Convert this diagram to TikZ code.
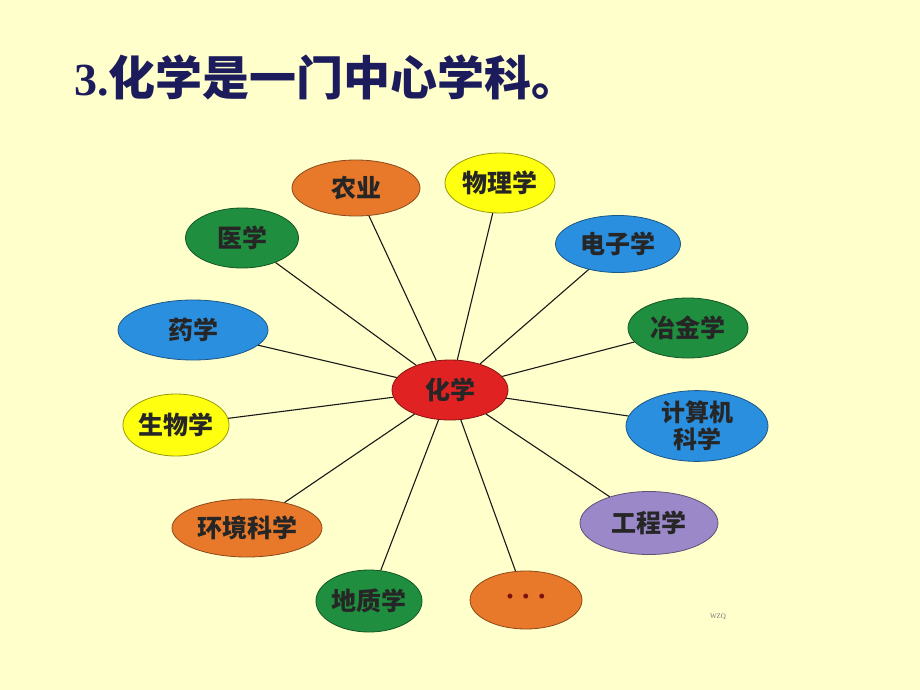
\documentclass[tikz,border=0pt]{standalone}
\usepackage{fontspec}
\setmainfont{Liberation Serif}
\newfontfamily\cjk{Noto Sans CJK SC}
\usetikzlibrary{shapes.geometric}
\definecolor{bg}{HTML}{FFFFCC}
\definecolor{titlec}{HTML}{1C1C5C}
\definecolor{corange}{HTML}{E8792A}
\definecolor{cyellow}{HTML}{FFFF10}
\definecolor{cgreen}{HTML}{1F8F3F}
\definecolor{cblue}{HTML}{2B8FE0}
\definecolor{cpurple}{HTML}{9A88C8}
\definecolor{cred}{HTML}{E02222}
\definecolor{dotc}{HTML}{7A1010}
\tikzset{
  bubble/.style={ellipse, inner sep=0pt, draw=#1!60!black, line width=0.8pt, fill=#1,
    font=\cjk\bfseries\fontsize{25}{27}\selectfont, text=black!85, align=center},
  link/.style={draw=black!90, line width=1.1pt}
}
\begin{document}
\begin{tikzpicture}[x=1pt,y=-1pt]
\fill[bg] (0,0) rectangle (920,690);
\useasboundingbox (0,0) rectangle (920,690);
\node[anchor=west, text=titlec, inner sep=0pt] (title) at (74,77)
  {\bfseries\fontsize{46}{48}\selectfont 3.{\cjk\fontsize{47}{49}\selectfont 化学是一门中心学科。}};
\node[bubble=cred, minimum width=116pt, minimum height=60pt] (c) at (450,390) {化学};
\node[bubble=corange, minimum width=128pt, minimum height=56pt] (ny) at (356,188) {农业};
\node[bubble=cyellow, minimum width=110pt, minimum height=60pt] (wl) at (500,183) {物理学};
\node[bubble=cgreen, minimum width=113pt, minimum height=60pt] (yx) at (242,238) {医学};
\node[bubble=cblue, minimum width=125pt, minimum height=57pt] (dz) at (618,244) {电子学};
\node[bubble=cblue, minimum width=150pt, minimum height=60pt] (yao) at (193,330) {药学};
\node[bubble=cgreen, minimum width=120pt, minimum height=60pt] (yj) at (688,328) {冶金学};
\node[bubble=cyellow, minimum width=100pt, minimum height=62pt] (sw) at (176,425) {生物学};
\node[bubble=cblue, minimum width=142pt, minimum height=66pt, font=\cjk\bfseries\fontsize{24}{27}\selectfont] (js) at (697,426) {计算机\\科学};
\node[bubble=corange, minimum width=150pt, minimum height=58pt] (hj) at (247,528) {环境科学};
\node[bubble=cpurple, minimum width=138pt, minimum height=63pt] (gc) at (649,523) {工程学};
\node[bubble=cgreen, minimum width=102pt, minimum height=62pt] (dzx) at (369,601) {地质学};
\node[bubble=corange, minimum width=112pt, minimum height=58pt, text=dotc, font=\bfseries\fontsize{30}{30}\selectfont] (dots) at (526,600) {·\hspace{6pt}·\hspace{6pt}·};
\node[text=black!55, font=\fontsize{7}{8}\selectfont, inner sep=0pt] (wzq) at (718,617) {WZQ};
\foreach \t in {ny,wl,yx,dz,yao,yj,sw,js,hj,gc,dzx,dots}
  \draw[link] (c) -- (\t);
\end{tikzpicture}
\end{document}
